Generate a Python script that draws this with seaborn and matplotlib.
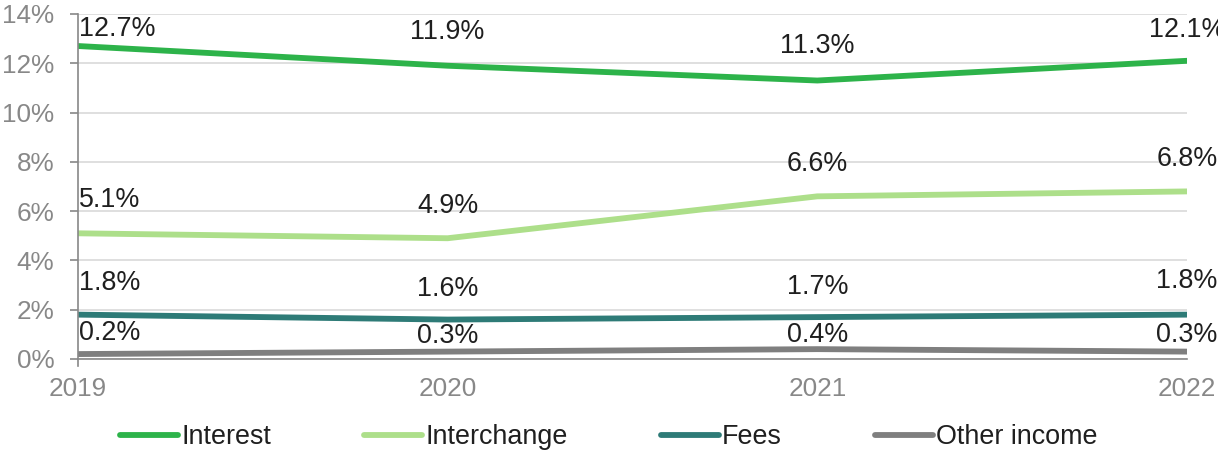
import matplotlib
matplotlib.use('Agg')
import matplotlib.pyplot as plt
import pandas as pd
import seaborn as sns
from matplotlib.ticker import FuncFormatter

# data (percent)
years = [2019, 2020, 2021, 2022]
interest = [12.7, 11.9, 11.3, 12.1]
interchange = [5.1, 4.9, 6.6, 6.8]
fees = [1.8, 1.6, 1.7, 1.8]
other_income = [0.2, 0.3, 0.4, 0.3]
series_names = ['Interest', 'Interchange', 'Fees', 'Other income']

colors = ['#2db34a', '#addf8a', '#2e7b77', '#7f7f7f']
# label offsets above each point, in points
label_offsets = [[12, 24, 25, 22], [24, 23, 23, 23], [23, 22, 22, 24], [15, 11, 10, 12]]

df = pd.DataFrame({
    'year': years * 4,
    'value': interest + interchange + fees + other_income,
    'series': [s for s in series_names for _ in years],
})

sns.set_style('white')
plt.rcParams['font.family'] = ['Liberation Sans', 'DejaVu Sans']
fs = 18.8
fs_lab = 19.4

fig, ax = plt.subplots(figsize=(12.18, 4.51), dpi=100)
fig.subplots_adjust(left=0.064, right=0.9745, top=0.969, bottom=0.204)

sns.lineplot(data=df, x='year', y='value', hue='series', hue_order=series_names,
             palette=colors, linewidth=4.2, ax=ax, legend=True, solid_capstyle='round')

# data labels
values = [interest, interchange, fees, other_income]
for vals, offs in zip(values, label_offsets):
    for i, (x, v) in enumerate(zip(years, vals)):
        ha = 'left' if i == 0 else 'center'
        ax.annotate(f'{v:.1f}%', (x, v), xytext=(1 if i == 0 else 0, offs[i]),
                    textcoords='offset points', ha=ha, va='center',
                    fontsize=fs_lab, color='#1f1f1f', annotation_clip=False)

ax.set_xlim(2019, 2022)
ax.set_ylim(0, 14)
ax.set_yticks(range(0, 15, 2))
ax.yaxis.set_major_formatter(FuncFormatter(lambda v, p: f'{int(v)}%'))
ax.set_xticks(years)
ax.set_xticklabels([str(y) for y in years])
ax.set_xlabel('')
ax.set_ylabel('')

ax.grid(axis='y', color='#d9d9d9', linewidth=1.2)
ax.set_axisbelow(True)
for s in ['top', 'right']:
    ax.spines[s].set_visible(False)
for s in ['left', 'bottom']:
    ax.spines[s].set_color('#888888')
    ax.spines[s].set_linewidth(1.2)
ax.spines['left'].set_bounds(-0.28, 14)

ax.tick_params(axis='y', colors='#888888', labelsize=fs, length=6, width=1.2,
               direction='out', left=True, pad=11)
ax.tick_params(axis='x', colors='#888888', labelsize=fs, length=0, pad=13)
for lbl in ax.get_xticklabels() + ax.get_yticklabels():
    lbl.set_color('#888888')

handles, labels = ax.get_legend_handles_labels()
ax.legend(handles, labels, loc='center', bbox_to_anchor=(0.5, 0.031),
          bbox_transform=fig.transFigure, ncol=4, frameon=False, fontsize=fs_lab,
          handlelength=2.15, handletextpad=0.12, columnspacing=3.45,
          labelcolor='#1f1f1f')

fig.savefig('out.png', dpi=100)
